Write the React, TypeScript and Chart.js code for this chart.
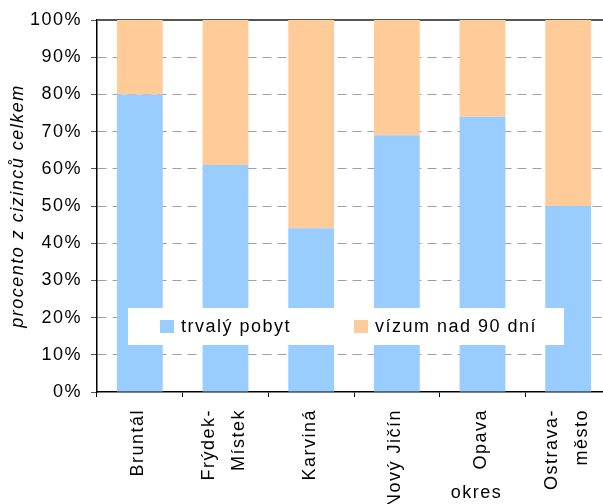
import React, { useEffect, useRef } from "react";
import { Chart, registerables } from "chart.js";

Chart.register(...registerables);

// ---- data ----
const categoryLines: string[][] = [
  ["Bruntál"],
  ["Frýdek-", "Místek"],
  ["Karviná"],
  ["Nový Jičín"],
  ["Opava", "okres"],
  ["Ostrava-", "město"],
];
// how many lines of each label are written rotated (the rest are written horizontally below)
const rotatedLineCount = [1, 2, 1, 1, 1, 2];
const seriesNames = ["trvalý pobyt", "vízum nad 90 dní"];
const trvalyPobyt = [80, 61, 44, 69, 74, 50];
const vizumNad90 = [20, 39, 56, 31, 26, 50];
const yTickStep = 10;
const yMax = 100;
const yTitle = "procento z cizinců celkem";

const BLUE = "#99CCFF";
const ORANGE = "#FFCC99";
const FONT = "Arial, 'Liberation Sans', sans-serif";
const FS = 18;
const LS = "1.5px";

const customPlugin = {
  id: "customDraw",
  beforeLayout(chart: any) {
    chart.ctx.letterSpacing = LS;
  },
  beforeDraw(chart: any) {
    chart.ctx.letterSpacing = LS;
  },
  beforeDatasetsDraw(chart: any) {
    const { ctx, chartArea, scales } = chart;
    const y = scales.y.getPixelForValue(yMax);
    ctx.save();
    ctx.strokeStyle = "#555";
    ctx.lineWidth = 2;
    ctx.beginPath();
    ctx.moveTo(chartArea.left, y);
    ctx.lineTo(chartArea.right, y);
    ctx.stroke();
    ctx.restore();
  },
  afterDatasetsDraw(chart: any) {
    const { ctx, chartArea } = chart;
    const bx = chartArea.left + 31;
    const by = chartArea.top + 288;
    const bw = 436;
    const bh = 37;
    ctx.save();
    ctx.letterSpacing = LS;
    ctx.fillStyle = "#fff";
    ctx.fillRect(bx, by, bw, bh);
    const itemOffsets = [32, 226];
    chart.data.datasets.forEach((ds: any, i: number) => {
      const sx = bx + itemOffsets[i];
      ctx.fillStyle = ds.backgroundColor;
      ctx.fillRect(sx, by + 12, 14, 13);
      ctx.fillStyle = "#000";
      ctx.font = `${FS}px ${FONT}`;
      ctx.textAlign = "left";
      ctx.textBaseline = "middle";
      ctx.fillText(ds.label, sx + 21, by + 19);
    });
    ctx.restore();
  },
  afterDraw(chart: any) {
    const { ctx, chartArea, scales } = chart;
    ctx.save();
    ctx.letterSpacing = LS;
    ctx.fillStyle = "#000";
    ctx.font = `${FS}px ${FONT}`;
    categoryLines.forEach((lines, i) => {
      const x = scales.x.getPixelForValue(i);
      const n = rotatedLineCount[i];
      for (let j = 0; j < n; j++) {
        const off = (j - (n - 1) / 2) * 30 - 1.5;
        ctx.save();
        ctx.translate(x + off, chartArea.bottom + 17);
        ctx.rotate(-Math.PI / 2);
        ctx.textAlign = "right";
        ctx.textBaseline = "middle";
        ctx.fillText(lines[j], 0, 0);
        ctx.restore();
      }
      for (let j = n; j < lines.length; j++) {
        ctx.textAlign = "center";
        ctx.textBaseline = "alphabetic";
        ctx.fillText(lines[j], x - 6, chartArea.bottom + 106);
      }
    });
    ctx.restore();
  },
};

export default function App() {
  const ref = useRef<HTMLCanvasElement | null>(null);

  useEffect(() => {
    if (!ref.current) return;
    const chart = new Chart(ref.current, {
      type: "bar",
      data: {
        labels: categoryLines.map((l) => l.join(" ")),
        datasets: [
          {
            label: seriesNames[0],
            data: trvalyPobyt,
            backgroundColor: BLUE,
            borderWidth: 0,
            categoryPercentage: 1,
            barPercentage: 0.535,
          },
          {
            label: seriesNames[1],
            data: vizumNad90,
            backgroundColor: ORANGE,
            borderWidth: 0,
            categoryPercentage: 1,
            barPercentage: 0.535,
          },
        ],
      },
      options: {
        responsive: false,
        animation: false,
        devicePixelRatio: 1,
        layout: { padding: { top: 20, left: 0, right: 0, bottom: 0 } },
        plugins: {
          legend: { display: false },
          tooltip: { enabled: false },
        },
        scales: {
          x: {
            stacked: true,
            offset: true,
            ticks: { display: false },
            grid: {
              drawOnChartArea: false,
              drawTicks: true,
              tickLength: 5,
              tickColor: "#000",
              tickWidth: 1,
              offset: true,
            },
            border: { display: true, color: "#000", width: 1.5 },
            afterFit: (s: any) => {
              s.height = 112;
            },
          },
          y: {
            stacked: true,
            min: 0,
            max: yMax,
            ticks: {
              stepSize: yTickStep,
              color: "#000",
              font: { family: FONT, size: FS },
              padding: 9,
              callback: (v: any) => `${v}%`,
            },
            grid: {
              color: (c: any) =>
                c.tick && (c.tick.value === 0 || c.tick.value === yMax)
                  ? "rgba(0,0,0,0)"
                  : "#a0a0a0",
              lineWidth: 1,
              drawTicks: true,
              tickLength: 6,
              tickColor: "#555",
              tickWidth: 1,
            },
            border: { display: true, color: "#000", width: 1.5, dash: [9, 6] },
            title: {
              display: true,
              text: yTitle,
              color: "#000",
              font: { family: FONT, size: FS, style: "italic" },
              padding: { top: 7, bottom: 0 },
            },
            afterFit: (s: any) => {
              s.width = 97;
            },
          },
        },
      },
      plugins: [customPlugin],
    });
    return () => chart.destroy();
  }, []);

  return (
    <div
      style={{
        position: "absolute",
        left: 0,
        top: 0,
        width: 603,
        height: 504,
        overflow: "hidden",
        background: "#fff",
      }}
    >
      <canvas ref={ref} width={611} height={504} style={{ display: "block" }} />
    </div>
  );
}
